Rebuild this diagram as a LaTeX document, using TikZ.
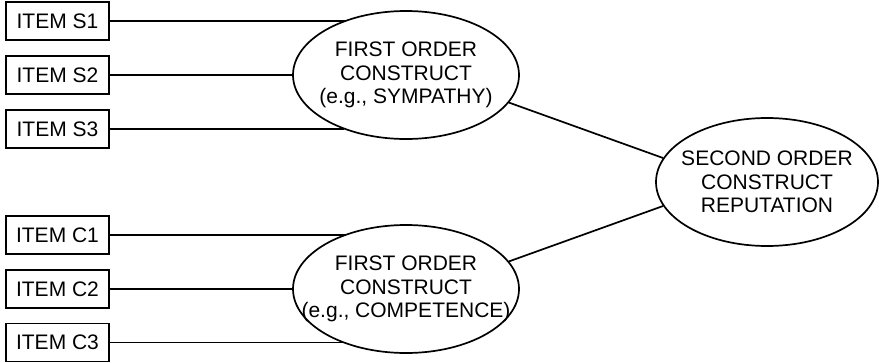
\documentclass[tikz,border=0pt]{standalone}
\usepackage{fontspec}
\setmainfont{Liberation Sans}
\usetikzlibrary{shapes.geometric}
\begin{document}
\begin{tikzpicture}[x=1pt,y=-1pt,line width=1.7pt,
  itembox/.style={draw,minimum width=103pt,minimum height=38pt,inner sep=0pt,font=\fontsize{21}{24}\selectfont},
  construct/.style={draw,ellipse,minimum width=226pt,minimum height=128pt,inner sep=0pt},
  ctext/.style={align=center,inner sep=0pt,font=\fontsize{21}{23.5}\selectfont},
  link/.style={line width=1.7pt}]
\useasboundingbox (0,0) rectangle (879,362);
\node[itembox] (s1) at (57.5,21) {ITEM S1};
\node[itembox] (s2) at (57.5,75) {ITEM S2};
\node[itembox] (s3) at (57.5,129) {ITEM S3};
\node[itembox] (c1) at (57.5,235) {ITEM C1};
\node[itembox] (c2) at (57.5,289) {ITEM C2};
\node[itembox] (c3) at (57.5,342.5) {ITEM C3};
\node[construct] (e1) at (406,75) {};
\node[ctext] (t1) at (e1.center) {FIRST ORDER\\CONSTRUCT\\(e.g., SYMPATHY)};
\node[construct] (e2) at (406,289) {};
\node[ctext] (t2) at (e2.center) {FIRST ORDER\\CONSTRUCT\\(e.g., COMPETENCE)};
\node[construct,minimum width=222pt] (e3) at (767,182) {};
\node[ctext] (t3) at (e3.center) {SECOND ORDER\\CONSTRUCT\\REPUTATION};
\draw[link] (s1.east) -- (s1.east -| e1.138.3);
\draw[link] (s2.east) -- (e1.west);
\draw[link] (s3.east) -- (s3.east -| e1.221.7);
\draw[link] (c1.east) -- (c1.east -| e2.138.3);
\draw[link] (c2.east) -- (e2.west);
\draw[link] (c3.east) -- (c3.east -| e2.221.7);
\draw[link] (e1.-15) -- (e3.167);
\draw[link] (e2.15) -- (e3.193);
\end{tikzpicture}
\end{document}
